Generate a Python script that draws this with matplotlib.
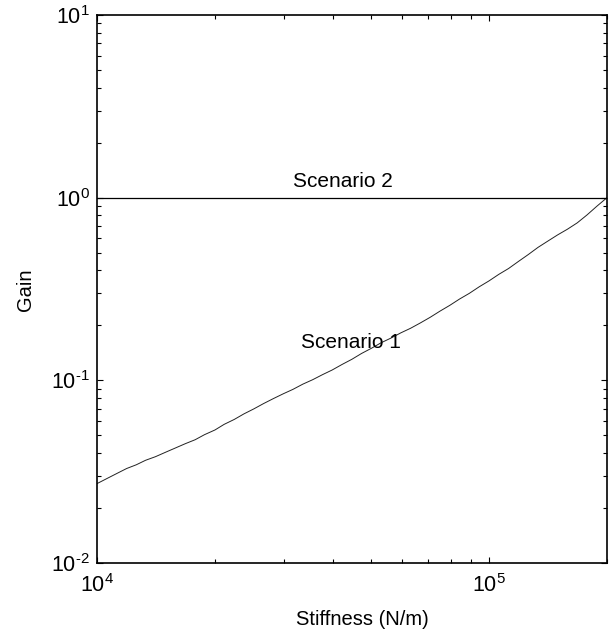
import matplotlib
matplotlib.use("Agg")
import matplotlib.pyplot as plt
from matplotlib.ticker import LogLocator, NullFormatter, FuncFormatter
import numpy as np

# stiffness grid (N/m) and gain
stiffness = [10000, 10600, 11200, 11900, 12600, 13300, 14100, 15000, 15800, 16800,
             17800, 18800, 20000, 21100, 22400, 23700, 25100, 26600, 28200, 29900,
             31600, 33500, 35500, 37600, 39800, 42200, 44700, 47300, 50100, 53100,
             56200, 59600, 63100, 66800, 70800, 75000, 79400, 84100, 89100, 94400,
             100000, 105900, 112200, 118900, 125900, 133400, 141300, 149600, 158500, 167900,
             177800, 188400, 200000]
gain_s1 = [0.0272, 0.0290, 0.0308, 0.0329, 0.0345, 0.0365, 0.0382, 0.0405, 0.0425, 0.0450,
           0.0473, 0.0504, 0.0535, 0.0574, 0.0611, 0.0655, 0.0697, 0.0746, 0.0795, 0.0845,
           0.0892, 0.0953, 0.1008, 0.1074, 0.1139, 0.1222, 0.1304, 0.1403, 0.1497, 0.1607,
           0.1703, 0.1820, 0.1928, 0.2061, 0.2214, 0.2393, 0.2572, 0.2786, 0.2994, 0.3251,
           0.3502, 0.3802, 0.4095, 0.4477, 0.4879, 0.5346, 0.5785, 0.6252, 0.6718, 0.7278,
           0.8040, 0.8974, 1.0]
gain_s2 = [1.0, 1.0]
x_s2 = [10000, 200000]

plt.rcParams["font.family"] = ["Liberation Sans", "DejaVu Sans"]
plt.rcParams["mathtext.fontset"] = "custom"
plt.rcParams["mathtext.rm"] = "Liberation Sans"
plt.rcParams["axes.unicode_minus"] = False
plt.rcParams["font.size"] = 14


def pow10(v, pos):
  # matlab-style 10^n with a plain hyphen for negative exponents
  e = int(round(np.log10(v)))
  if e < 0:
    return r"$\mathregular{10^{\text{-}%d}}$" % (-e)
  return r"$\mathregular{10^{%d}}$" % e


fig = plt.figure(figsize=(6.11, 6.37), dpi=100)
ax = fig.add_axes([97 / 611, 1 - 563 / 637, 510 / 611, 548 / 637])

ax.plot(stiffness, gain_s1, color="#222222", lw=0.7)
ax.plot(x_s2, gain_s2, color="black", lw=0.9)

ax.set_xscale("log")
ax.set_yscale("log")
ax.set_xlim(1e4, 2e5)
ax.set_ylim(1e-2, 1e1)

ax.xaxis.set_minor_locator(LogLocator(base=10, subs=range(2, 10), numticks=20))
ax.yaxis.set_minor_locator(LogLocator(base=10, subs=range(2, 10), numticks=20))
ax.xaxis.set_minor_formatter(NullFormatter())
ax.yaxis.set_minor_formatter(NullFormatter())
ax.xaxis.set_major_formatter(FuncFormatter(pow10))
ax.yaxis.set_major_formatter(FuncFormatter(pow10))

ax.tick_params(which="both", direction="in", top=True, right=True, width=0.8)
ax.tick_params(which="major", length=4, labelsize=15.5)
ax.tick_params(axis="x", which="major", pad=8)
ax.tick_params(axis="y", which="major", pad=5)
ax.tick_params(which="minor", length=3)
for s in ax.spines.values():
  s.set_linewidth(1.2)

ax.text(4.25e4, 1.23, "Scenario 2", ha="center", va="center", fontsize=15)
ax.text(4.45e4, 0.162, "Scenario 1", ha="center", va="center", fontsize=15)

ax.set_xlabel("Stiffness (N/m)", fontsize=14.5, va="center")
ax.xaxis.set_label_coords(0.521, -0.104)
ax.set_ylabel("Gain", fontsize=14.5, va="center")
ax.yaxis.set_label_coords(-0.141, 0.498)

fig.savefig("out.png", dpi=100)
